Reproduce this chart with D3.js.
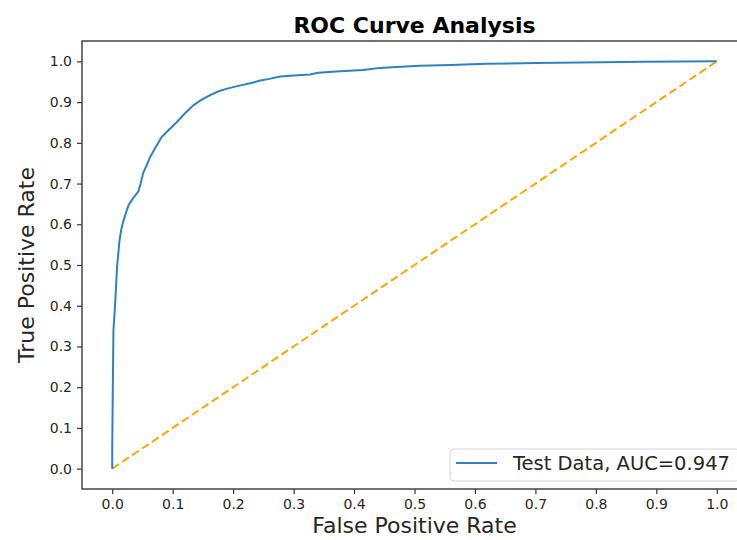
<!DOCTYPE html>
<html>
<head>
<meta charset="utf-8">
<title>ROC Curve Analysis</title>
<script src="https://d3js.org/d3.v7.min.js"></script>
<style>
body { margin: 0; background: #fff; }
svg { font-family: "DejaVu Sans", sans-serif; }
</style>
</head>
<body>
<svg id="chart" width="737" height="540"></svg>
<script>
// ROC points
var fpr = [0, 0, 0.001, 0.002, 0.005, 0.008, 0.012, 0.015, 0.018, 0.022, 0.027, 0.035, 0.043, 0.047, 0.051,
  0.057, 0.063, 0.072, 0.082, 0.095, 0.107, 0.12, 0.134, 0.148, 0.162, 0.175, 0.19, 0.212, 0.23, 0.245,
  0.26, 0.278, 0.3, 0.327, 0.341, 0.37, 0.415, 0.443, 0.47, 0.509, 0.56, 0.619, 0.7, 0.774, 0.88, 1];
var tpr = [0, 0.05, 0.2, 0.34, 0.41, 0.496, 0.56, 0.588, 0.606, 0.625, 0.647, 0.665, 0.68, 0.70, 0.725,
  0.745, 0.766, 0.79, 0.815, 0.834, 0.851, 0.872, 0.892, 0.906, 0.917, 0.926, 0.933, 0.941, 0.947, 0.953,
  0.957, 0.963, 0.965, 0.968, 0.972, 0.975, 0.979, 0.984, 0.986, 0.989, 0.991, 0.994, 0.996, 0.997, 0.999, 1];
var chance = [0, 1];
var xTicks = [0, 0.1, 0.2, 0.3, 0.4, 0.5, 0.6, 0.7, 0.8, 0.9, 1.0];
var yTicks = [0, 0.1, 0.2, 0.3, 0.4, 0.5, 0.6, 0.7, 0.8, 0.9, 1.0];
var legendLabel = "Test Data, AUC=0.947";

var svg = d3.select("#chart");
var pLeft = 82, pTop = 41, pRight = 747, pBottom = 489;

var x = d3.scaleLinear().domain([-0.05, 1.05]).range([pLeft, pRight]);
var y = d3.scaleLinear().domain([-0.05, 1.05]).range([pBottom, pTop]);

function styleAxis(g) {
  g.select(".domain").remove();
  g.attr("font-family", "DejaVu Sans, sans-serif").attr("font-size", 14);
  g.selectAll(".tick line").attr("stroke", "#333").attr("stroke-width", 1.2);
  g.selectAll(".tick text").attr("fill", "#262626");
}

// axes
svg.append("g")
    .attr("transform", "translate(0," + pBottom + ")")
    .call(d3.axisBottom(x).tickValues(xTicks).tickFormat(d3.format(".1f")).tickSize(5).tickPadding(5))
    .call(styleAxis);

svg.append("g")
    .attr("transform", "translate(" + pLeft + ",0)")
    .call(d3.axisLeft(y).tickValues(yTicks).tickFormat(d3.format(".1f")).tickSize(5).tickPadding(5))
    .call(styleAxis);

// spines (right one is off the picture)
svg.append("path")
    .attr("d", "M" + pRight + "," + pTop + "H" + pLeft + "V" + pBottom + "H" + pRight)
    .attr("fill", "none")
    .attr("stroke", "#444")
    .attr("stroke-width", 1.5);

// chance line
svg.append("path")
    .datum(chance)
    .attr("fill", "none")
    .attr("stroke", "#ffa500")
    .attr("stroke-width", 2)
    .attr("stroke-dasharray", "8,4")
    .attr("d", d3.line().x(function(d) { return x(d); }).y(function(d) { return y(d); }));

// roc curve
svg.append("path")
    .datum(d3.range(fpr.length))
    .attr("fill", "none")
    .attr("stroke", "#2f82c0")
    .attr("stroke-width", 2)
    .attr("stroke-linejoin", "round")
    .attr("d", d3.line().x(function(i) { return x(fpr[i]); }).y(function(i) { return y(tpr[i]); }));

// legend
var lg = svg.append("g");
lg.append("rect")
    .attr("x", 450).attr("y", 449).attr("width", 290).attr("height", 32)
    .attr("rx", 4)
    .attr("fill", "#fff").attr("fill-opacity", 0.8)
    .attr("stroke", "#d6d6d6");
lg.append("line")
    .attr("x1", 456).attr("x2", 497).attr("y1", 463).attr("y2", 463)
    .attr("stroke", "#2f82c0").attr("stroke-width", 2);
lg.append("text")
    .attr("x", 513).attr("y", 470)
    .attr("font-size", 19.5)
    .attr("fill", "#262626")
    .text(legendLabel);

// titles
svg.append("text")
    .attr("x", (pLeft + pRight) / 2).attr("y", 33)
    .attr("text-anchor", "middle")
    .attr("font-size", 22).attr("font-weight", "bold")
    .text("ROC Curve Analysis");

svg.append("text")
    .attr("x", (pLeft + pRight) / 2).attr("y", 533)
    .attr("text-anchor", "middle")
    .attr("font-size", 22)
    .attr("fill", "#262626")
    .text("False Positive Rate");

svg.append("text")
    .attr("transform", "translate(34," + ((pTop + pBottom) / 2) + ")rotate(-90)")
    .attr("text-anchor", "middle")
    .attr("font-size", 22)
    .attr("fill", "#262626")
    .text("True Positive Rate");
</script>
</body>
</html>
